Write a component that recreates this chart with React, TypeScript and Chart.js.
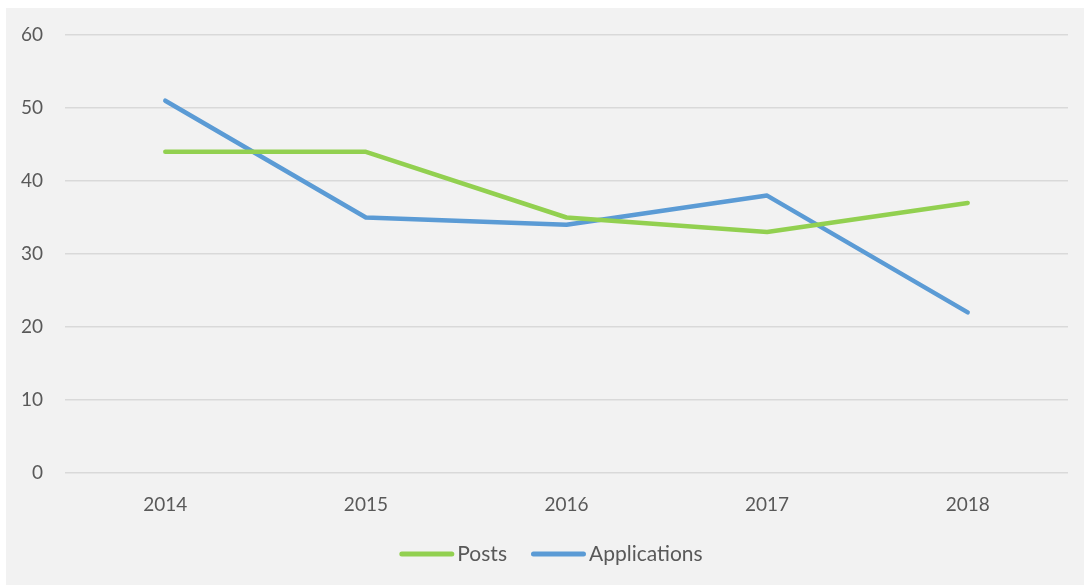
import React, { useEffect, useRef } from "react";
import { Chart, registerables } from "chart.js";

Chart.register(...registerables);

const categories = ["2014", "2015", "2016", "2017", "2018"];
const posts = [44, 44, 35, 33, 37];
const applications = [51, 35, 34, 38, 22];

const FONT_FAMILY = "Lato, 'Noto Sans', sans-serif";
const TEXT_COLOR = "#595959";

const legendPlugin = {
  id: "customLegend",
  afterDraw(chart: any) {
    const ctx = chart.ctx;
    const items = chart.data.datasets.map((d: any) => ({
      label: d.label,
      color: d.borderColor,
    }));
    ctx.save();
    ctx.font = `21px ${FONT_FAMILY}`;
    const lineW = 55;
    const gapText = 3;
    const gapItem = 24;
    const widths = items.map(
      (it: any) => lineW + gapText + ctx.measureText(it.label).width
    );
    const total =
      widths.reduce((a: number, b: number) => a + b, 0) +
      gapItem * (items.length - 1);
    let x = chart.width / 2 - total / 2 + 6;
    const y = 546;
    items.forEach((it: any, i: number) => {
      ctx.strokeStyle = it.color;
      ctx.lineWidth = 5;
      ctx.lineCap = "round";
      ctx.beginPath();
      ctx.moveTo(x + 2.5, y);
      ctx.lineTo(x + lineW - 2.5, y);
      ctx.stroke();
      ctx.fillStyle = TEXT_COLOR;
      ctx.textBaseline = "middle";
      ctx.textAlign = "left";
      ctx.fillText(it.label, x + lineW + gapText, y);
      x += widths[i] + gapItem;
    });
    ctx.restore();
  },
};

export default function App() {
  const ref = useRef<HTMLCanvasElement | null>(null);
  useEffect(() => {
    if (!ref.current) return;
    const font = { family: FONT_FAMILY, size: 19 };
    const chart = new Chart(ref.current, {
      type: "line",
      data: {
        labels: categories,
        datasets: [
          {
            label: "Posts",
            data: posts,
            borderColor: "#92d050",
            backgroundColor: "#92d050",
            borderWidth: 4.5,
            pointRadius: 0,
            tension: 0,
            borderCapStyle: "round",
            borderJoinStyle: "round",
          },
          {
            label: "Applications",
            data: applications,
            borderColor: "#5b9bd5",
            backgroundColor: "#5b9bd5",
            borderWidth: 4.5,
            pointRadius: 0,
            tension: 0,
            borderCapStyle: "round",
            borderJoinStyle: "round",
          },
        ],
      },
      plugins: [legendPlugin],
      options: {
        animation: false,
        responsive: false,
        layout: { padding: { left: 0, right: 16, top: 27, bottom: 0 } },
        plugins: {
          tooltip: { enabled: false },
          legend: { display: false },
        },
        scales: {
          x: {
            offset: true,
            grid: { display: false, drawTicks: false },
            border: { display: false },
            ticks: { font, color: TEXT_COLOR, padding: 20 },
            afterFit: (s: any) => {
              s.height = 112;
            },
          },
          y: {
            min: 0,
            max: 60,
            ticks: { stepSize: 10, font, color: TEXT_COLOR, padding: 22 },
            grid: { color: "#d9d9d9", lineWidth: 1.5, drawTicks: false },
            border: { display: false },
            afterFit: (s: any) => {
              s.width = 59;
              s.paddingTop = 0;
              s.paddingBottom = 0;
            },
          },
        },
      },
    });
    return () => chart.destroy();
  }, []);
  return (
    <div
      style={{
        position: "absolute",
        left: 6,
        top: 8,
        width: 1078,
        height: 577,
        background: "#f2f2f2",
      }}
    >
      <canvas ref={ref} width={1078} height={577} />
    </div>
  );
}
